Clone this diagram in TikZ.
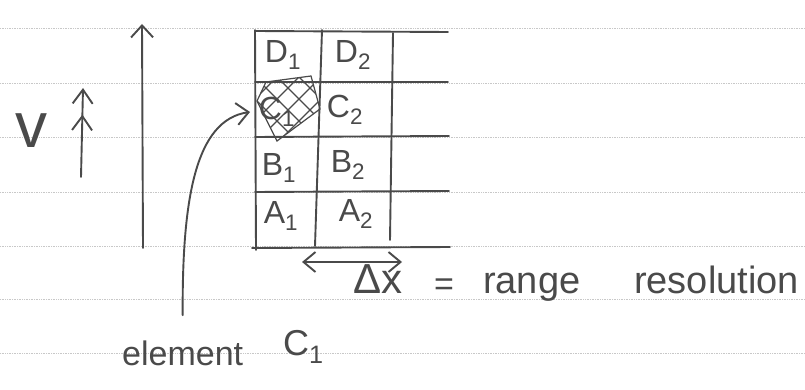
\documentclass[tikz,border=0pt]{standalone}
\usepackage{fontspec}
\setmainfont{Liberation Sans}
\usetikzlibrary{arrows.meta}
\definecolor{pencil}{HTML}{4A4A4A}
\definecolor{ruling}{HTML}{C8C8C8}
\tikzset{
  ink/.style={draw=pencil, line width=1.9pt, line cap=round, line join=round},
  hatchline/.style={draw=pencil, line width=1.2pt, line cap=round},
  ruleline/.style={draw=ruling, line width=0.7pt, densely dotted},
  barb/.style={-{Straight Barb[length=12pt,width=22pt]}},
  dblbarb/.style={{Straight Barb[length=12pt,width=20pt]}-{Straight Barb[length=12pt,width=20pt]}},
  twinbarb/.style={-{Straight Barb[length=14pt,width=20pt,sep=10pt]Straight Barb[length=14pt,width=20pt]}},
  hand/.style={text=pencil, inner sep=0pt},
  cell/.style={hand, font=\fontsize{32}{32}\selectfont},
}
\begin{document}
\begin{tikzpicture}[x=1pt,y=-1pt]
\fill[white] (0,0) rectangle (805,390);
\useasboundingbox (0,0) rectangle (805,390);
% ruled notebook lines
\foreach \y in {28,83,137,192,246,299,353} \draw[ruleline] (0,\y) -- (805,\y);

% velocity
\node[hand, font=\fontsize{64}{64}\selectfont] (v) at (32,131) {v};
\coordinate (vtail) at (81,177);
\coordinate (vhead) at (83,88);
\draw[ink, twinbarb] (vtail) -- (vhead);

% long vertical arrow
\coordinate (ltail) at (143,248);
\coordinate (lhead) at (142,24);
\draw[ink, barb] (ltail) -- (lhead);

% grid
\draw[ink] (255,31) -- (448,32);
\draw[ink] (255,82) -- (448,82);
\draw[ink] (255,137) -- (449,136);
\draw[ink] (255,192) -- (449,191);
\draw[ink] (252,248) -- (450,247);
\draw[ink] (255,30) -- (256,250);
\draw[ink] (322,30) -- (315,246);
\draw[ink] (393,33) -- (390,240);

% cell labels
\node[cell] (d1) at (283,55) {D\textsubscript{1}};
\node[cell] (d2) at (353,55) {D\textsubscript{2}};
\node[cell] (c1) at (277,112) {C\textsubscript{1}};
\node[cell] (c2) at (345,110) {C\textsubscript{2}};
\node[cell] (b1) at (279,168) {B\textsubscript{1}};
\node[cell] (b2) at (348,165) {B\textsubscript{2}};
\node[cell] (a1) at (281,216) {A\textsubscript{1}};
\node[cell] (a2) at (356,214) {A\textsubscript{2}};

% cross-hatching over C1
\begin{scope}
  \clip (257,101) -- (266,82) -- (311,76) -- (320,109) -- (277,141) -- cycle;
  \foreach \k in {-44,-22,...,44} {
    \draw[hatchline] (288+\k-40,110-40) -- (288+\k+40,110+40);
    \draw[hatchline] (288+\k-40,110+40) -- (288+\k+40,110-40);
  }
\end{scope}
\draw[hatchline] (257,101) -- (266,82) -- (311,76) -- (320,109) -- (277,141) -- cycle;

% range resolution arrow and text
\coordinate (rl) at (302,262);
\coordinate (rr) at (402,262);
\draw[ink, dblbarb] (rl) -- (rr);
\node[hand, font=\fontsize{42}{42}\selectfont, anchor=base west] (dx) at (353,293) {Δx};
\node[hand, font=\fontsize{34}{34}\selectfont] (eq) at (444,287) {=};
\node[hand, font=\fontsize{38}{38}\selectfont, anchor=base west] (range) at (483,293) {range};
\node[hand, font=\fontsize{38}{38}\selectfont, anchor=base west] (resol) at (634,293) {resolution};

% element C1 label and pointer
\node[hand, font=\fontsize{34}{34}\selectfont, anchor=base west] (elem) at (122,365) {element};
\node[hand, font=\fontsize{36}{36}\selectfont, anchor=base west] (ce) at (283,355) {C\textsubscript{1}};
\coordinate (c1in) at (250,112);
\draw[ink, barb] ([yshift=25pt]elem.north) .. controls (182,200) and (195,120) .. (c1in);
\end{tikzpicture}
\end{document}
